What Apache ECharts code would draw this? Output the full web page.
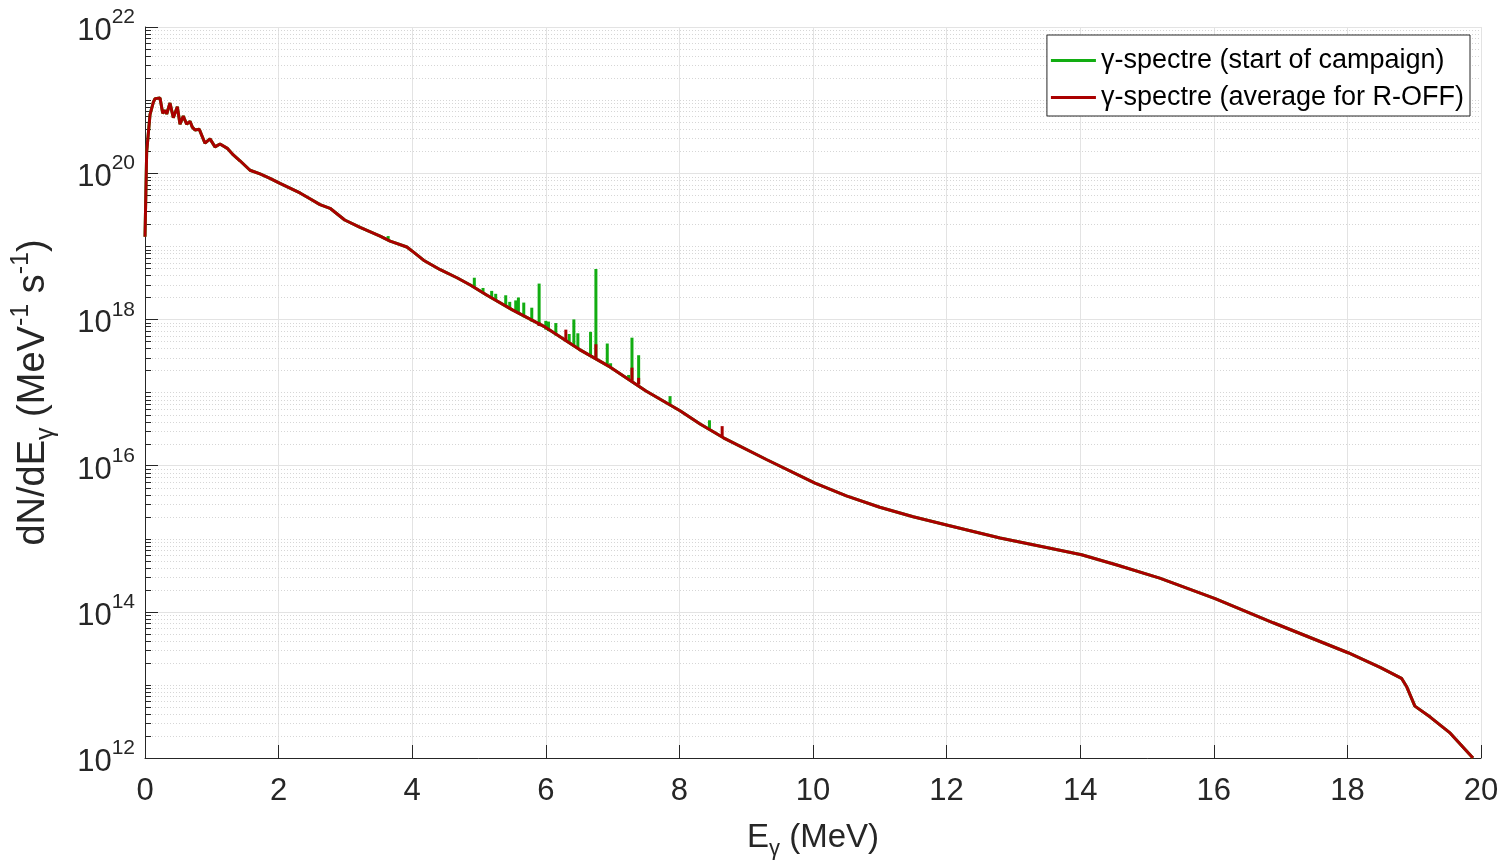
<!DOCTYPE html>
<html>
<head>
<meta charset="utf-8">
<script src="https://cdn.jsdelivr.net/npm/echarts@6/dist/echarts.min.js"></script>
<style>
html,body{margin:0;padding:0;background:#fff;}
#chart{width:1501px;height:867px;}
</style>
</head>
<body>
<div id="chart"></div>
<script>
// Photon energy (MeV) of the baseline spectrum points
const energyMeV = [0, 0.025, 0.075, 0.124, 0.15, 0.225, 0.265, 0.30, 0.325, 0.374, 0.424, 0.484, 0.524, 0.573, 0.624, 0.674, 0.708, 0.749, 0.813, 0.898, 0.973, 1.048, 1.123, 1.232, 1.322, 1.422, 1.572, 1.722, 1.871, 2.021, 2.32, 2.47, 2.62, 2.77, 2.99, 3.22, 3.52, 3.67, 3.92, 4.02, 4.17, 4.42, 4.67, 4.87, 5.12, 5.5, 6.0, 6.5, 6.96, 7.5, 8.01, 8.31, 8.66, 9.31, 10.03, 10.5, 11.0, 11.5, 12.03, 12.80, 13.55, 14.02, 14.55, 15.19, 16.02, 16.89, 18.01, 18.49, 18.81, 18.89, 19.01, 19.24, 19.54, 19.88];
// log10 of dN/dE (MeV^-1 s^-1) for the R-OFF average spectrum
const log10Flux = [19.13, 20.29, 20.80, 20.97, 21.02, 21.03, 20.82, 20.86, 20.81, 20.96, 20.76, 20.91, 20.67, 20.78, 20.67, 20.71, 20.63, 20.59, 20.60, 20.41, 20.47, 20.36, 20.40, 20.34, 20.25, 20.17, 20.04, 19.99, 19.93, 19.86, 19.73, 19.65, 19.57, 19.52, 19.36, 19.26, 19.14, 19.07, 18.99, 18.92, 18.81, 18.68, 18.57, 18.47, 18.33, 18.13, 17.89, 17.59, 17.35, 17.02, 16.75, 16.57, 16.38, 16.08, 15.76, 15.585, 15.43, 15.30, 15.18, 15.01, 14.87, 14.78, 14.64, 14.46, 14.18, 13.85, 13.44, 13.24, 13.09, 12.97, 12.71, 12.56, 12.34, 12.0];

// Green (start of campaign) line peaks: energy, log10 base, log10 top
const greenPeakE    = [3.64, 4.93, 5.06, 5.19, 5.25, 5.40, 5.46, 5.55, 5.59, 5.67, 5.79, 5.90, 6.00, 6.04, 6.15, 6.35, 6.42, 6.48, 6.67, 6.75, 6.92, 6.97, 7.24, 7.29, 7.39, 7.86, 8.45];
const greenPeakBase = [19.08, 18.43, 18.36, 18.29, 18.26, 18.18, 18.15, 18.10, 18.08, 18.03, 17.97, 17.91, 17.86, 17.84, 17.78, 17.68, 17.64, 17.61, 17.50, 17.46, 17.37, 17.34, 17.19, 17.16, 17.11, 16.83, 16.50];
const greenPeakTop  = [19.14, 18.57, 18.43, 18.39, 18.35, 18.33, 18.24, 18.26, 18.30, 18.23, 18.16, 18.49, 17.98, 17.97, 17.95, 17.80, 18.00, 17.81, 17.83, 18.69, 17.67, 17.40, 17.24, 17.75, 17.51, 16.95, 16.62];

// Red (R-OFF average) line peaks
const redPeakE    = [5.90, 6.30, 6.75, 7.29, 7.39, 8.64];
const redPeakBase = [17.91, 17.70, 17.46, 17.16, 17.11, 16.39];
const redPeakTop  = [17.96, 17.86, 17.66, 17.34, 17.20, 16.54];

const xTicks = [0, 2, 4, 6, 8, 10, 12, 14, 16, 18, 20];
const minorMultipliers = [2, 3, 4, 5, 6, 7, 8, 9];
const decades = [12, 13, 14, 15, 16, 17, 18, 19, 20, 21];

const names = ['γ-spectre (start of campaign)', 'γ-spectre (average for R-OFF)'];
const GREEN = '#12ad12';
const RED = '#aa0000';
const AXIS = '#262626';
const FONT = 'Liberation Sans, Arial, sans-serif';

const baseline = energyMeV.map((e, i) => [e, Math.pow(10, log10Flux[i])]);
const greenPeaks = greenPeakE.map((e, i) => [e, Math.pow(10, greenPeakBase[i]), Math.pow(10, greenPeakTop[i])]);
const redPeaks = redPeakE.map((e, i) => [e, Math.pow(10, redPeakBase[i]), Math.pow(10, redPeakTop[i])]);

// minor grid/tick positions (odd decades are minor too, labels every 2 decades)
const minorVals = [];
decades.forEach(d => {
  if (d % 2 === 1) minorVals.push([0, Math.pow(10, d)]);
  minorMultipliers.forEach(m => minorVals.push([0, m * Math.pow(10, d)]));
});

function peakRenderer(color) {
  return function (params, api) {
    const p0 = api.coord([api.value(0), api.value(1)]);
    const p1 = api.coord([api.value(0), api.value(2)]);
    return {
      type: 'line',
      shape: { x1: p0[0], y1: p0[1], x2: p1[0], y2: p1[1] },
      style: { stroke: color, lineWidth: 3 }
    };
  };
}

const chart = echarts.init(document.getElementById('chart'), null, { renderer: 'canvas' });
const option = {
  animation: false,
  backgroundColor: '#fff',
  textStyle: { fontFamily: FONT },
  grid: { left: 145, right: 20, top: 27, bottom: 109, containLabel: false, outerBoundsMode: 'none' },
  legend: {
    data: names,
    orient: 'vertical',
    right: 31,
    top: 35,
    backgroundColor: '#fff',
    borderColor: AXIS,
    borderWidth: 1,
    padding: [12, 6, 5, 4],
    itemGap: 10,
    itemWidth: 45,
    itemHeight: 3,
    icon: 'rect',
    textStyle: { fontSize: 27, color: '#000', fontFamily: FONT }
  },
  xAxis: {
    type: 'value',
    min: 0, max: 20, interval: 2,
    name: '{n|E}{sub|γ}{n| (MeV)}',
    nameLocation: 'middle',
    nameGap: 58,
    nameTextStyle: {
      rich: {
        n: { fontSize: 33, color: AXIS, fontFamily: FONT, lineHeight: 44, verticalAlign: 'middle' },
        sub: { fontSize: 22, color: AXIS, fontFamily: FONT, verticalAlign: 'bottom', lineHeight: 22 }
      }
    },
    axisLine: { show: true, lineStyle: { color: AXIS, width: 1 } },
    axisTick: { show: true, inside: true, length: 13, lineStyle: { color: AXIS } },
    axisLabel: { fontSize: 31, color: AXIS, margin: 18, fontFamily: FONT },
    splitLine: { show: true, lineStyle: { color: '#e3e3e3', width: 1 } }
  },
  yAxis: {
    type: 'log',
    logBase: 10,
    min: 1e12, max: 1e22,
    interval: 2,
    name: '{n|dN/dE}{sub|γ}{n| (MeV}{sup|-1}{n| s}{sup|-1}{n|)}',
    nameLocation: 'middle',
    nameRotate: 90,
    nameGap: 86,
    nameTextStyle: {
      rich: {
        n: { fontSize: 38, color: AXIS, fontFamily: FONT, lineHeight: 50, verticalAlign: 'middle' },
        sub: { fontSize: 25, color: AXIS, fontFamily: FONT, verticalAlign: 'bottom', lineHeight: 25 },
        sup: { fontSize: 25, color: AXIS, fontFamily: FONT, verticalAlign: 'top', lineHeight: 25 }
      }
    },
    axisLine: { show: true, lineStyle: { color: AXIS, width: 1 } },
    axisTick: { show: true, inside: true, length: 13, lineStyle: { color: AXIS } },
    minorTick: { show: false },
    axisLabel: {
      margin: 10,
      formatter: function (v) {
        const ex = Math.round(Math.log10(v));
        return '{b|10}{s|' + ex + '}';
      },
      rich: {
        b: { fontSize: 31, color: AXIS, fontFamily: FONT, lineHeight: 40, verticalAlign: 'bottom' },
        s: { fontSize: 21, color: AXIS, fontFamily: FONT, lineHeight: 21, verticalAlign: 'top' }
      }
    },
    splitLine: { show: true, lineStyle: { color: '#e3e3e3', width: 1 } }
  },
  series: [
    {
      name: '__minorgrid',
      type: 'custom',
      silent: true,
      z: 1,
      data: minorVals,
      renderItem: function (params, api) {
        const p0 = api.coord([0, api.value(1)]);
        const p1 = api.coord([20, api.value(1)]);
        const y = Math.round(p0[1]) + 0.5;
        return {
          type: 'group',
          children: [
            { type: 'line', shape: { x1: p0[0] + 1, y1: y, x2: p1[0], y2: y }, style: { stroke: '#d6d6d6', lineWidth: 1, lineDash: [1, 2] } },
            { type: 'line', shape: { x1: p0[0], y1: y, x2: p0[0] + 6, y2: y }, style: { stroke: AXIS, lineWidth: 1 } }
          ]
        };
      }
    },
    {
      name: names[0],
      type: 'line',
      data: baseline,
      showSymbol: false,
      symbol: 'none',
      color: GREEN,
      lineStyle: { color: GREEN, width: 3 },
      z: 3
    },
    {
      name: '__greenpeaks',
      type: 'custom',
      data: greenPeaks,
      z: 3,
      renderItem: peakRenderer(GREEN)
    },
    {
      name: names[1],
      type: 'line',
      data: baseline,
      showSymbol: false,
      symbol: 'none',
      color: RED,
      lineStyle: { color: RED, width: 3 },
      z: 4
    },
    {
      name: '__redpeaks',
      type: 'custom',
      data: redPeaks,
      z: 4,
      renderItem: peakRenderer(RED)
    }
  ]
};
chart.setOption(option);
</script>
</body>
</html>
